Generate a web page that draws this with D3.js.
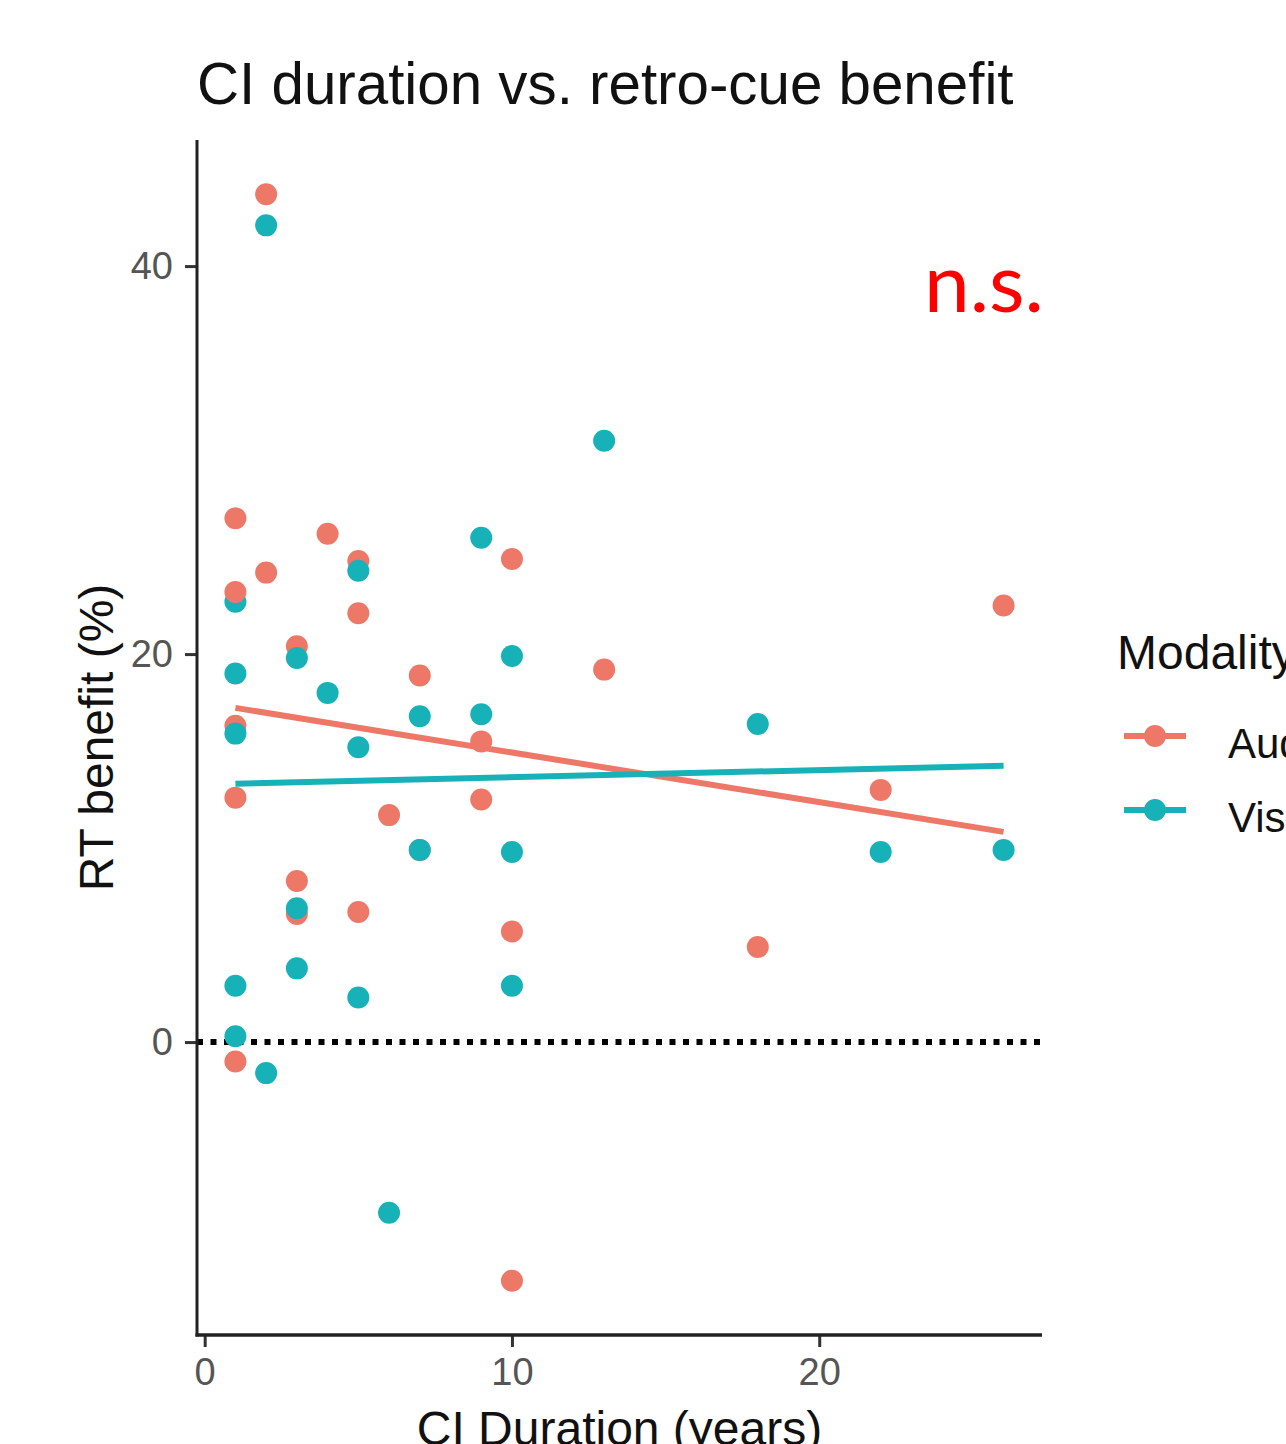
<!DOCTYPE html>
<html>
<head>
<meta charset="utf-8">
<script src="https://cdn.jsdelivr.net/npm/d3@7"></script>
<style>
  html, body { margin: 0; padding: 0; background: #fff; overflow: hidden; }
  svg { display: block; }
</style>
</head>
<body>
<svg id="chart" width="1286" height="1444"></svg>
<script>
// ---- data (one entry per participant) ----
const ciDuration = [1, 1, 1, 1, 1, 2, 2, 3, 3, 3, 4, 5, 5, 5, 6, 7, 7, 9, 9, 10, 10, 10, 13, 18, 22, 26];
const audBenefit = [27.0, 23.2, 16.3, 12.6, -1.0, 43.7, 24.2, 20.4, 8.3, 6.6, 26.2, 24.8, 22.1, 6.7, 11.7, 18.9, 9.9, 15.5, 12.5, 24.9, 5.7, -12.3, 19.2, 4.9, 13.0, 22.5];
const visBenefit = [22.7, 19.0, 15.9, 2.9, 0.3, 42.1, -1.6, 19.8, 3.8, 6.9, 18.0, 24.3, 15.2, 2.3, -8.8, 16.8, 9.9, 26.0, 16.9, 19.9, 9.8, 2.9, 31.0, 16.4, 9.8, 9.9];
const modalities = ["Aud.", "Vis."];
const xTicks = [0, 10, 20];
const yTicks = [0, 20, 40];

const colors = { "Aud.": "#EE7868", "Vis.": "#17B2B8" };

const svg = d3.select("#chart");
const panel = { left: 197, right: 1042, top: 140, bottom: 1335 };

// ggplot-like 5% expansion
function expand(ext) { const s = ext[1] - ext[0]; return [ext[0] - 0.05 * s, ext[1] + 0.05 * s]; }
const xExt = d3.extent(ciDuration);
const yExt = d3.extent(audBenefit.concat(visBenefit));

const x = d3.scaleLinear().domain(expand(xExt)).range([panel.left, panel.right]);
const y = d3.scaleLinear().domain(expand(yExt)).range([panel.bottom, panel.top]);

// linear fit
function fit(xs, ys) {
  const mx = d3.mean(xs), my = d3.mean(ys);
  let sxy = 0, sxx = 0;
  xs.forEach((v, i) => { sxy += (v - mx) * (ys[i] - my); sxx += (v - mx) * (v - mx); });
  const b = sxy / sxx;
  return { a: my - b * mx, b };
}

// zero reference line
svg.append("line")
  .attr("x1", panel.left).attr("x2", panel.right)
  .attr("y1", y(0)).attr("y2", y(0))
  .attr("stroke", "#000").attr("stroke-width", 6)
  .attr("stroke-dasharray", "6,7.5");

// points, drawn participant by participant
const gPts = svg.append("g");
ciDuration.forEach((d, i) => {
  gPts.append("circle").attr("cx", x(d)).attr("cy", y(audBenefit[i])).attr("r", 11).attr("fill", colors["Aud."]);
  gPts.append("circle").attr("cx", x(d)).attr("cy", y(visBenefit[i])).attr("r", 11).attr("fill", colors["Vis."]);
});

// regression lines
[["Aud.", audBenefit], ["Vis.", visBenefit]].forEach(([m, ys]) => {
  const f = fit(ciDuration, ys);
  svg.append("line")
    .attr("x1", x(xExt[0])).attr("y1", y(f.a + f.b * xExt[0]))
    .attr("x2", x(xExt[1])).attr("y2", y(f.a + f.b * xExt[1]))
    .attr("stroke", colors[m]).attr("stroke-width", 6);
});

// axes
const font = "'Liberation Sans', Arial, sans-serif";
const xAxis = svg.append("g").attr("transform", `translate(0,${panel.bottom})`)
  .call(d3.axisBottom(x).tickValues(xTicks).tickSize(12).tickPadding(11));
const yAxis = svg.append("g").attr("transform", `translate(${panel.left},0)`)
  .call(d3.axisLeft(y).tickValues(yTicks).tickSize(12).tickPadding(12));
[xAxis, yAxis].forEach(g => {
  g.select(".domain").remove();
  g.selectAll(".tick line").attr("stroke", "#333").attr("stroke-width", 3);
  g.selectAll(".tick text").attr("fill", "#555").style("font-family", font).style("font-size", "38px");
});
svg.append("line").attr("x1", panel.left).attr("x2", panel.left)
  .attr("y1", panel.top).attr("y2", panel.bottom + 1.5)
  .attr("stroke", "#222").attr("stroke-width", 3);
svg.append("line").attr("x1", panel.left - 1.5).attr("x2", panel.right)
  .attr("y1", panel.bottom).attr("y2", panel.bottom)
  .attr("stroke", "#222").attr("stroke-width", 3.5);

// titles
svg.append("text").attr("x", 197).attr("y", 104)
  .style("font-family", font).style("font-size", "58.3px").attr("fill", "#111")
  .text("CI duration vs. retro-cue benefit");
svg.append("text").attr("transform", `translate(113,${(panel.top + panel.bottom) / 2}) rotate(-90)`)
  .attr("text-anchor", "middle")
  .style("font-family", font).style("font-size", "48px").attr("fill", "#111")
  .text("RT benefit (%)");
svg.append("text").attr("x", (panel.left + panel.right) / 2).attr("y", 1445)
  .attr("text-anchor", "middle")
  .style("font-family", font).style("font-size", "48px").attr("fill", "#111")
  .text("CI Duration (years)");

// legend
const lg = svg.append("g");
lg.append("text").attr("x", 1117).attr("y", 669)
  .style("font-family", font).style("font-size", "48px").attr("fill", "#111")
  .text("Modality");
modalities.forEach((m, i) => {
  const cy = 736 + i * 74;
  lg.append("line").attr("x1", 1124).attr("x2", 1186).attr("y1", cy).attr("y2", cy)
    .attr("stroke", colors[m]).attr("stroke-width", 6);
  lg.append("circle").attr("cx", 1155).attr("cy", cy).attr("r", 11).attr("fill", colors[m]);
  lg.append("text").attr("x", 1228).attr("y", cy + 22)
    .style("font-family", font).style("font-size", "42px").attr("fill", "#111")
    .text(m);
});

// annotation
svg.append("text").attr("x", 924).attr("y", 312)
  .style("font-family", "Lato, 'Noto Sans', sans-serif").style("font-size", "82px").attr("fill", "#FF0000")
  .text("n.s.");
</script>
</body>
</html>
